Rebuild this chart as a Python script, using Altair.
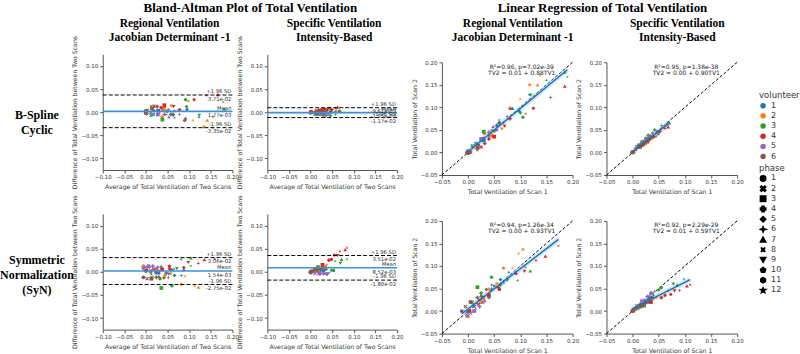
import altair as alt
import pandas as pd

FONT = "DejaVu Sans"
SERIF = "Liberation Serif"

volunteer_ids = [1, 2, 3, 4, 5, 6]
volunteer_colors = ["#1f77b4", "#ff7f0e", "#2ca02c", "#d62728", "#9467bd", "#8c564b"]
phase_ids = [1, 2, 3, 4, 5, 6, 7, 8, 9, 10, 11, 12]
phase_shapes = [
    "circle",
    "M-1,-0.6L-0.6,-1L0,-0.4L0.6,-1L1,-0.6L0.4,0L1,0.6L0.6,1L0,0.4L-0.6,1L-1,0.6L-0.4,0Z",
    "square",
    "cross",
    "diamond",
    "M0,-1L0.25,-0.25L1,0L0.25,0.25L0,1L-0.25,0.25L-1,0L-0.25,-0.25Z",
    "triangle-up",
    "M-0.75,-0.75L0,-0.3L0.75,-0.75L0.3,0L0.75,0.75L0,0.3L-0.75,0.75L-0.3,0Z",
    "triangle-down",
    "M0,-1L0.95,-0.31L0.59,0.81L-0.59,0.81L-0.95,-0.31Z",
    "M0,-1L0.87,-0.5L0.87,0.5L0,1L-0.87,0.5L-0.87,-0.5Z",
    "M0,-1L0.22,-0.31L0.95,-0.31L0.36,0.12L0.59,0.81L0,0.38L-0.59,0.81L-0.36,0.12L-0.95,-0.31L-0.22,-0.31Z",
]

# one entry per scan pair (same subjects/phases for every method)
point_volunteer = [1, 1, 1, 1, 1, 1, 1, 1, 1, 1,
                   2, 2, 2, 2, 2, 2, 2, 2, 2, 2,
                   3, 3, 3, 3, 3, 3, 3, 3, 3, 3, 3, 3,
                   4, 4, 4, 4, 4, 4, 4, 4, 4, 4,
                   5, 5, 5, 5, 5, 5, 5, 5,
                   6, 6, 6, 6, 6, 6, 6, 6]
point_phase = [1, 2, 3, 4, 5, 6, 7, 8, 9, 10,
               1, 2, 3, 4, 5, 6, 7, 8, 9, 10,
               1, 2, 3, 4, 5, 6, 7, 8, 9, 10, 11, 12,
               1, 2, 3, 4, 5, 6, 7, 8, 9, 10,
               1, 2, 3, 4, 5, 6, 7, 8,
               1, 2, 3, 4, 5, 6, 7, 8]

# B-Spline Cyclic, Regional Ventilation (Jacobian determinant - 1)
bs_jac_tv1 = [0.000, 0.015, 0.030, 0.055, 0.098, 0.117, 0.085, 0.060, 0.040, 0.020,
              0.002, 0.020, 0.045, 0.080, 0.118, 0.138, 0.133, 0.100, 0.065, 0.032,
              0.000, 0.008, 0.030, 0.060, 0.100, 0.150, 0.185, 0.190, 0.120, 0.105, 0.050, 0.018,
              0.003, 0.025, 0.050, 0.080, 0.125, 0.158, 0.185, 0.110, 0.070, 0.040,
              0.000, 0.010, 0.025, 0.040, 0.055, 0.068, 0.048, 0.030,
              -0.002, 0.005, 0.018, 0.032, 0.060, 0.075, 0.082, 0.045]
bs_jac_tv2 = [0.003, 0.020, 0.027, 0.060, 0.092, 0.128, 0.098, 0.072, 0.036, 0.017,
              0.000, 0.012, 0.038, 0.098, 0.150, 0.172, 0.150, 0.118, 0.052, 0.042,
              -0.002, 0.015, 0.046, 0.065, 0.088, 0.160, 0.178, 0.168, 0.127, 0.078, 0.048, 0.005,
              0.000, 0.012, 0.035, 0.075, 0.098, 0.122, 0.147, 0.086, 0.058, 0.030,
              0.002, 0.012, 0.030, 0.045, 0.050, 0.065, 0.058, 0.033,
              0.000, 0.001, 0.010, 0.020, 0.066, 0.080, 0.098, 0.050]

# B-Spline Cyclic, Specific Ventilation (intensity based)
bs_int_tv1 = [0.000, 0.010, 0.022, 0.035, 0.048, 0.058, 0.066, 0.045, 0.028, 0.015,
              0.001, 0.012, 0.024, 0.038, 0.052, 0.062, 0.040, 0.020, 0.008, 0.030,
              0.000, 0.008, 0.018, 0.030, 0.042, 0.055, 0.070, 0.050, 0.035, 0.025, 0.012, 0.045,
              0.002, 0.015, 0.028, 0.040, 0.052, 0.062, 0.068, 0.048, 0.033, 0.020,
              0.000, 0.010, 0.020, 0.030, 0.038, 0.045, 0.034, 0.025,
              -0.001, 0.006, 0.014, 0.022, 0.030, 0.036, 0.026, 0.018]
bs_int_tv2 = [0.000, 0.011, 0.021, 0.034, 0.046, 0.056, 0.064, 0.043, 0.027, 0.015,
              0.000, 0.013, 0.020, 0.033, 0.046, 0.058, 0.036, 0.018, 0.009, 0.025,
              0.001, 0.013, 0.022, 0.038, 0.050, 0.060, 0.066, 0.040, 0.030, 0.031, 0.017, 0.036,
              0.001, 0.012, 0.024, 0.035, 0.047, 0.053, 0.057, 0.041, 0.028, 0.016,
              0.001, 0.012, 0.024, 0.034, 0.043, 0.048, 0.038, 0.028,
              0.000, 0.007, 0.013, 0.021, 0.029, 0.035, 0.025, 0.017]

# Symmetric Normalization (SyN), Regional Ventilation
syn_jac_tv1 = [0.000, 0.012, 0.028, 0.045, 0.062, 0.078, 0.090, 0.068, 0.050, 0.022,
               0.000, 0.010, 0.025, 0.040, 0.068, 0.097, 0.105, 0.085, 0.055, 0.030,
               0.002, 0.008, 0.018, 0.045, 0.062, 0.095, 0.119, 0.110, 0.075, 0.040, 0.025, 0.010,
               0.003, 0.020, 0.040, 0.058, 0.092, 0.130, 0.148, 0.173, 0.108, 0.060,
               -0.002, 0.005, 0.012, 0.022, 0.032, 0.040, 0.028, 0.015,
               -0.012, -0.005, 0.005, 0.018, 0.035, 0.045, 0.025, 0.010]
syn_jac_tv2 = [-0.002, 0.010, 0.030, 0.048, 0.070, 0.086, 0.085, 0.062, 0.055, 0.024,
               -0.012, 0.000, 0.020, 0.048, 0.095, 0.128, 0.138, 0.095, 0.060, 0.028,
               0.000, 0.020, 0.053, 0.075, 0.058, 0.068, 0.089, 0.097, 0.068, 0.030, 0.040, 0.012,
               0.000, 0.015, 0.035, 0.052, 0.083, 0.112, 0.122, 0.145, 0.088, 0.048,
               -0.010, -0.005, 0.000, 0.010, 0.022, 0.030, 0.020, 0.005,
               0.000, 0.010, 0.020, 0.030, 0.048, 0.058, 0.035, 0.015]

# Symmetric Normalization (SyN), Specific Ventilation
syn_int_tv1 = [0.000, 0.008, 0.016, 0.025, 0.033, 0.040, 0.030, 0.020, 0.012, 0.036,
               0.001, 0.010, 0.020, 0.030, 0.040, 0.045, 0.035, 0.025, 0.015, 0.005,
               0.000, 0.010, 0.022, 0.035, 0.050, 0.068, 0.085, 0.098, 0.078, 0.055, 0.030, 0.015,
               0.002, 0.018, 0.035, 0.055, 0.073, 0.090, 0.104, 0.110, 0.080, 0.062,
               0.000, 0.008, 0.018, 0.028, 0.036, 0.042, 0.032, 0.022,
               -0.001, 0.006, 0.015, 0.024, 0.032, 0.038, 0.028, 0.018]
syn_int_tv2 = [0.000, 0.007, 0.014, 0.022, 0.030, 0.035, 0.028, 0.019, 0.012, 0.030,
               0.000, 0.008, 0.015, 0.022, 0.028, 0.030, 0.026, 0.019, 0.012, 0.004,
               0.001, 0.006, 0.012, 0.040, 0.047, 0.045, 0.058, 0.071, 0.060, 0.052, 0.022, 0.010,
               0.001, 0.012, 0.020, 0.030, 0.037, 0.046, 0.056, 0.058, 0.045, 0.035,
               0.002, 0.012, 0.022, 0.032, 0.040, 0.044, 0.035, 0.026,
               0.000, 0.005, 0.010, 0.017, 0.022, 0.030, 0.020, 0.012]

ba_stat_names = ["+1.96 SD", "Mean", "-1.96 SD"]
bs_jac_ba = [0.0371, 0.00177, -0.0335]
bs_jac_ba_txt = ["3.71e-02", "1.77e-03", "-3.35e-02"]
bs_int_ba = [0.00961, -0.00105, -0.0117]
bs_int_ba_txt = ["9.61e-03", "-1.05e-03", "-1.17e-02"]
syn_jac_ba = [0.0306, 0.00154, -0.0275]
syn_jac_ba_txt = ["3.06e-02", "1.54e-03", "-2.75e-02"]
syn_int_ba = [0.0351, 0.00852, -0.0180]
syn_int_ba_txt = ["3.51e-02", "8.52e-03", "-1.80e-02"]

bs_jac_fit = ["R²=0.96, p=7.02e-39", "TV2 = 0.01 + 0.88TV1"]
bs_int_fit = ["R²=0.95, p=1.38e-38", "TV2 = 0.00 + 0.90TV1"]
syn_jac_fit = ["R²=0.94, p=1.26e-34", "TV2 = 0.00 + 0.93TV1"]
syn_int_fit = ["R²=0.92, p=2.29e-29", "TV2 = 0.01 + 0.59TV1"]

super_titles = ["Bland-Altman Plot of Total Ventilation", "Linear Regression of Total Ventilation"]

ba_x_ticks = [-0.10, -0.05, 0.00, 0.05, 0.10, 0.15, 0.20]
ba_y_ticks = [-0.10, -0.05, 0.00, 0.05, 0.10]
lr_ticks = [-0.05, 0.00, 0.05, 0.10, 0.15, 0.20]
lr_diag = [-0.05, 0.20]


def axis(title, values):
    return alt.Axis(title=title, values=values, format=".2f", labelFontSize=5.5,
                    titleFontSize=6.2, labelColor="#333", titleColor="#333",
                    domainColor="#555", tickColor="#555", tickSize=3, grid=False,
                    labelFont=FONT, titleFont=FONT, titleFontWeight="normal",
                    labelOverlap=False, labelFlush=False, labelBound=False,
                    titlePadding=3, labelPadding=2)


leg_common = dict(orient="none", legendX=761, symbolSize=30, labelFontSize=8,
                  titleFontSize=8.5, titleFontWeight="normal", rowPadding=2.2, clipHeight=8,
                  labelFont=FONT, titleFont=FONT, titleColor="#333", labelColor="#333",
                  titlePadding=2)
color_enc = alt.Color("volunteer:N",
                      scale=alt.Scale(domain=volunteer_ids, range=volunteer_colors),
                      legend=alt.Legend(title="volunteer", legendY=91, symbolType="circle",
                                        **leg_common))
shape_enc = alt.Shape("phase:O",
                      scale=alt.Scale(domain=phase_ids, range=phase_shapes),
                      legend=alt.Legend(title="phase", legendY=164, symbolFillColor="black",
                                        symbolStrokeColor="black", **leg_common))


def points_df(tv1, tv2):
    return pd.DataFrame({"volunteer": point_volunteer, "phase": point_phase, "tv1": tv1, "tv2": tv2})


def ba_panel(tv1, tv2, stats, stats_txt, w, h):
    base = alt.Chart(points_df(tv1, tv2)).transform_calculate(
        avg="(datum.tv1 + datum.tv2) / 2", diff="datum.tv1 - datum.tv2")
    xs = alt.Scale(domain=[-0.1, 0.2], nice=False)
    ys = alt.Scale(domain=[-0.125, 0.125], nice=False)
    xa = axis("Average of Total Ventilation of Two Scans", ba_x_ticks)
    ya = axis("Difference of Total Ventilation between Two Scans", ba_y_ticks)
    sdf = pd.DataFrame({"name": ba_stat_names, "val": stats, "txt": stats_txt})
    mean = alt.Chart(sdf).transform_filter("datum.name == 'Mean'").mark_rule(
        color="#3d8fd6", strokeWidth=1.6).encode(y=alt.Y("val:Q", scale=ys, axis=ya))
    sd = alt.Chart(sdf).transform_filter("datum.name != 'Mean'").mark_rule(
        color="black", strokeDash=[4, 2], strokeWidth=1).encode(y=alt.Y("val:Q", scale=ys, axis=ya))
    pts = base.mark_point(filled=True, size=14, opacity=1).encode(
        x=alt.X("avg:Q", scale=xs, axis=xa),
        y=alt.Y("diff:Q", scale=ys, axis=ya),
        color=color_enc, shape=shape_enc)
    t1 = alt.Chart(sdf).mark_text(align="right", dy=-3.6, fontSize=5.3, font=FONT, color="#333").encode(
        x=alt.value(w - 1), y=alt.Y("val:Q", scale=ys, axis=ya), text="name:N")
    t2 = alt.Chart(sdf).mark_text(align="right", dy=3.8, fontSize=5.3, font=FONT, color="#333").encode(
        x=alt.value(w - 1), y=alt.Y("val:Q", scale=ys, axis=ya), text="txt:N")
    return alt.layer(pts, mean, sd, t1, t2).properties(width=w, height=h)


def lr_panel(tv1, tv2, fit, w, h, top):
    # plot area occupies rows [top, h] of the cell
    base = alt.Chart(points_df(tv1, tv2))
    xs = alt.Scale(domain=[-0.05, 0.2], nice=False)
    ys = alt.Scale(domain=[-0.05, 0.2], nice=False, range=[h, top])
    xa = axis("Total Ventilation of Scan 1", lr_ticks)
    ya = axis("Total Ventilation of Scan 2", lr_ticks)
    diag = alt.Chart(pd.DataFrame({"a": lr_diag, "b": lr_diag})).mark_line(
        color="black", strokeDash=[3, 2], strokeWidth=1).encode(
        x=alt.X("a:Q", scale=xs, axis=xa), y=alt.Y("b:Q", scale=ys, axis=ya))
    pts = base.mark_point(filled=True, size=14, opacity=1).encode(
        x=alt.X("tv1:Q", scale=xs, axis=xa), y=alt.Y("tv2:Q", scale=ys, axis=ya),
        color=color_enc, shape=shape_enc)
    band = base.transform_regression("tv1", "tv2").mark_line(
        color="#9cc7ea", strokeWidth=5, opacity=0.45).encode(
        x=alt.X("tv1:Q", scale=xs, axis=xa), y=alt.Y("tv2:Q", scale=ys, axis=ya))
    reg = base.transform_regression("tv1", "tv2").mark_line(
        color="#1a6fb8", strokeWidth=1.4).encode(
        x=alt.X("tv1:Q", scale=xs, axis=xa), y=alt.Y("tv2:Q", scale=ys, axis=ya))
    ta = alt.Chart(pd.DataFrame({"txt": [fit[0]]})).mark_text(
        fontSize=6, font=FONT, color="#222").encode(x=alt.value(80), y=alt.value(top + 4.5), text="txt:N")
    tb = alt.Chart(pd.DataFrame({"txt": [fit[1]]})).mark_text(
        fontSize=6, font=FONT, color="#222").encode(x=alt.value(80), y=alt.value(top + 10.5), text="txt:N")
    return alt.layer(diag, band, pts, reg, ta, tb).properties(width=w, height=h)


def text_layer(txt, x, y, size):
    return alt.Chart(pd.DataFrame({"t": [txt]})).mark_text(
        font=SERIF, fontSize=size, fontWeight="bold", color="black",
        align="center", baseline="middle").encode(
        x=alt.value(x), y=alt.value(y), text="t:N")


def blank(w, h):
    return alt.Chart(pd.DataFrame({"t": [""]})).mark_text().encode(text="t:N").properties(width=w, height=h)


COLS = [103, 130, 35, 130, 45, 131, 34, 131]
ROWS = [54, 121, 39, 120]

head_ba1 = alt.layer(
    text_layer("Regional Ventilation", 67, 24, 11.5),
    text_layer("Jacobian Determinant -1", 67, 38, 11.5),
).properties(width=COLS[1], height=ROWS[0])
head_ba2 = alt.layer(
    text_layer("Specific Ventilation", 67, 24, 11.5),
    text_layer("Intensity-Based", 67, 38, 11.5),
).properties(width=COLS[3], height=ROWS[0])
head_lr1 = alt.layer(
    text_layer(super_titles[1], 161, 8, 13),
    text_layer(super_titles[0], -192, 8, 13),
    text_layer("Regional Ventilation", 71, 24, 11.5),
    text_layer("Jacobian Determinant -1", 71, 38, 11.5),
).properties(width=COLS[5], height=ROWS[0])
head_lr2 = alt.layer(
    text_layer("Specific Ventilation", 71, 24, 11.5),
    text_layer("Intensity-Based", 71, 38, 11.5),
).properties(width=COLS[7], height=ROWS[0])

label_top = alt.layer(
    text_layer("B-Spline", 37, 61, 12),
    text_layer("Cyclic", 37, 76, 12),
).properties(width=COLS[0], height=ROWS[1])

label_bottom = alt.layer(
    text_layer("Symmetric", 37, 46, 12),
    text_layer("Normalization", 37, 61, 12),
    text_layer("(SyN)", 37, 76, 12),
).properties(width=COLS[0], height=ROWS[3])

BA_H = 116

cells = [blank(COLS[0], ROWS[0]), head_ba1, blank(COLS[2], ROWS[0]), head_ba2,
         blank(COLS[4], ROWS[0]), head_lr1, blank(COLS[6], ROWS[0]), head_lr2]
cells += [label_top,
          ba_panel(bs_jac_tv1, bs_jac_tv2, bs_jac_ba, bs_jac_ba_txt, COLS[1], BA_H),
          blank(COLS[2], ROWS[1]),
          ba_panel(bs_int_tv1, bs_int_tv2, bs_int_ba, bs_int_ba_txt, COLS[3], BA_H),
          blank(COLS[4], ROWS[1]),
          lr_panel(bs_jac_tv1, bs_jac_tv2, bs_jac_fit, COLS[5], 121, 8),
          blank(COLS[6], ROWS[1]),
          lr_panel(bs_int_tv1, bs_int_tv2, bs_int_fit, COLS[7], 121, 8)]
cells += [blank(w, ROWS[2]) for w in COLS]
cells += [label_bottom,
          ba_panel(syn_jac_tv1, syn_jac_tv2, syn_jac_ba, syn_jac_ba_txt, COLS[1], BA_H),
          blank(COLS[2], ROWS[3]),
          ba_panel(syn_int_tv1, syn_int_tv2, syn_int_ba, syn_int_ba_txt, COLS[3], BA_H),
          blank(COLS[4], ROWS[3]),
          lr_panel(syn_jac_tv1, syn_jac_tv2, syn_jac_fit, COLS[5], 120, 7),
          blank(COLS[6], ROWS[3]),
          lr_panel(syn_int_tv1, syn_int_tv2, syn_int_fit, COLS[7], 120, 7)]

chart = alt.concat(*cells, columns=8, spacing=0, bounds="flush", align="each").properties(
    padding=0, background="white"
).configure_view(stroke=None)

chart.save("out.html", embed_options={"renderer": "svg", "actions": False})
